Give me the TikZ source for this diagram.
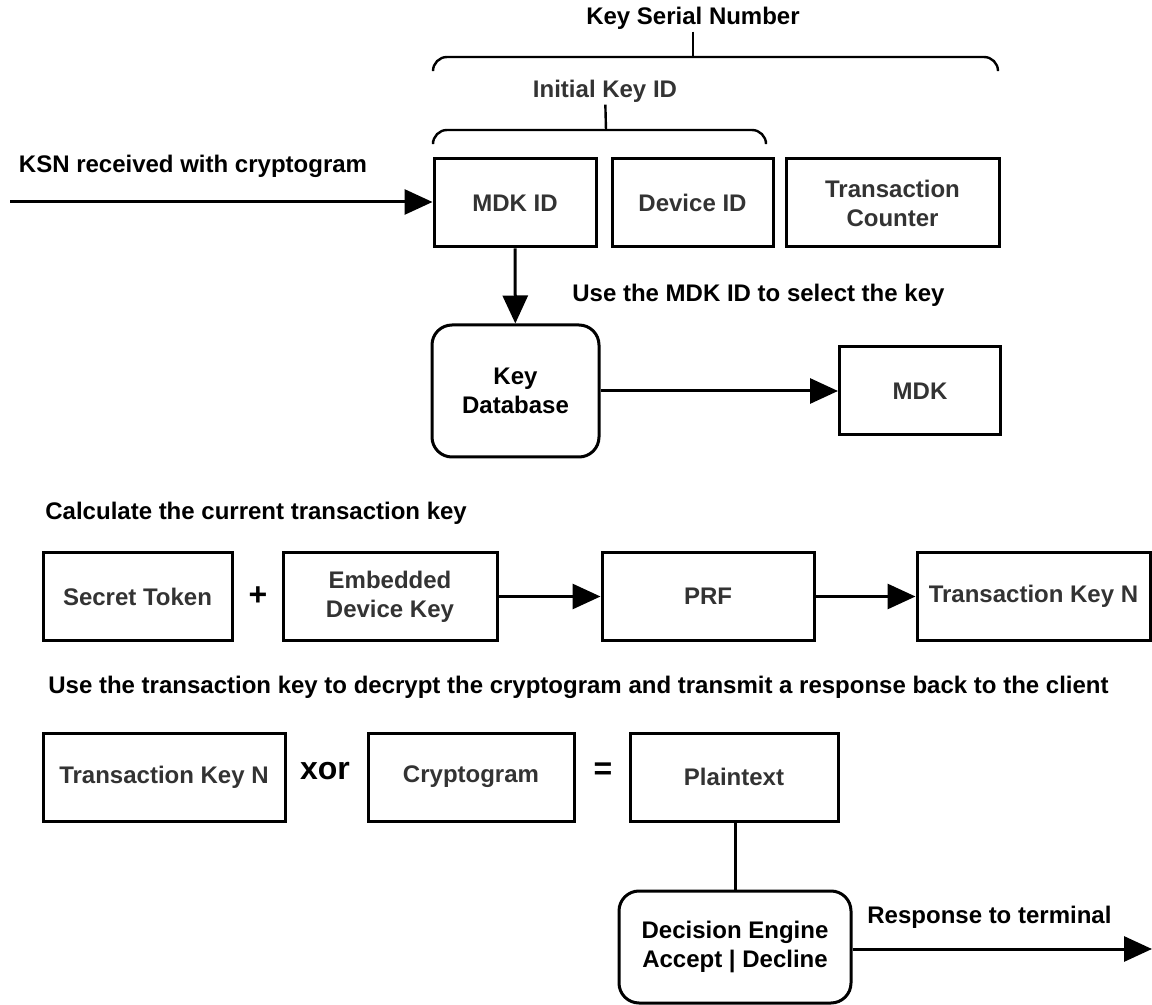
\documentclass[tikz,border=0pt]{standalone}
\usepackage{fontspec}
\setmainfont{Liberation Sans}
\usepackage{xcolor}
\usetikzlibrary{arrows.meta,positioning}
\definecolor{boxtext}{HTML}{333333}
\tikzset{
  box/.style={draw, line width=1.5pt, fill=white, text=boxtext, align=center, minimum height=44pt, inner sep=0pt},
  roundbox/.style={box, rounded corners=10pt, text=black},
  note/.style={inner sep=1pt, text=black},
  bignote/.style={note, font=\fontsize{16}{18}\selectfont\bfseries},
  brace/.style={line width=1.2pt, rounded corners=7pt},
  flow/.style={line width=1.5pt, -{Triangle[length=14pt,width=12.5pt]}},
  link/.style={line width=1.5pt}
}

\begin{document}
\begin{tikzpicture}[x=0.5pt, y=-0.5pt, font=\fontsize{12}{14.5}\selectfont\bfseries]
    \useasboundingbox (0,0) rectangle (1152,1005);

    % Key serial number fields
    \node[box, minimum width=81pt] (mdkid) at (515,203) {MDK ID};
    \node[box, minimum width=80.5pt] (devid) at (692.5,203) {Device ID};
    \node[box, minimum width=106.5pt] (txcnt) at (892.5,203) {Transaction\\Counter};

    % Braces
    \draw[brace] (433,69) -- (433,57) -- (998,57) -- (998,69);
    \draw[brace] (433,141) -- (433,130) -- (766,130) -- (766,141);
    \coordinate (ksntop) at (693,57);
    \coordinate (iktop) at (606,130);
    \node[note] (ksn) at (693,18) {Key Serial Number};
    \node[note, text=boxtext] (ikid) at (605,91) {Initial Key ID};
    \draw[brace] (ksn) -- (ksntop);
    \draw[brace] (ikid) -- (iktop);

    % Incoming KSN
    \coordinate (ksnin) at (10,202);
    \node[note] (ksnlbl) at (193,166) {KSN received with cryptogram};
    \draw[flow] (ksnin) -- (ksnin -| mdkid.west);

    % Key lookup
    \node[roundbox, minimum width=83.5pt, minimum height=66pt] (keydb) at (515.5,391) {Key\\Database};
    \node[box, minimum width=80.5pt] (mdk) at (920,391) {MDK};
    \node[note, anchor=west] (sellbl) at (570,295) {Use the MDK ID to select the key};
    \draw[flow] (mdkid) -- (keydb);
    \draw[flow] (keydb) -- (mdk);

    % Transaction key
    \node[note, anchor=west] (calclbl) at (43,513) {Calculate the current transaction key};
    \node[box, minimum width=94.5pt] (sectok) at (137.5,596.5) {Secret Token};
    \node[bignote] (plus) at (258,596) {+};
    \node[box, minimum width=107pt] (embkey) at (390,596.5) {Embedded\\Device Key};
    \node[box, minimum width=106pt] (prf) at (708,596.5) {PRF};
    \node[box, minimum width=116.5pt] (txkey) at (1033.5,596.5) {Transaction Key N};
    \draw[flow] (embkey) -- (prf);
    \draw[flow] (prf) -- (txkey);

    % Decryption
    \node[note, anchor=west] (declbl) at (46,687) {Use the transaction key to decrypt the cryptogram and transmit a response back to the client};
    \node[box, minimum width=121pt] (txkey2) at (164,777) {Transaction Key N};
    \node[bignote] (xor) at (325,771) {xor};
    \node[box, minimum width=103pt] (crypt) at (471,777) {Cryptogram};
    \node[bignote] (eq) at (603,771) {=};
    \node[box, minimum width=104pt] (plain) at (734,777) {Plaintext};

    % Decision
    \node[roundbox, minimum width=116pt, minimum height=56pt] (decide) at (735,947) {Decision Engine\\Accept | Decline};
    \coordinate (term) at (1152,949);
    \node[note, anchor=west] (resplbl) at (865,917) {Response to terminal};
    \draw[link] (plain.south -| decide.north) -- (decide.north);
    \draw[flow] (decide.east |- term) -- (term);
\end{tikzpicture}
\end{document}
